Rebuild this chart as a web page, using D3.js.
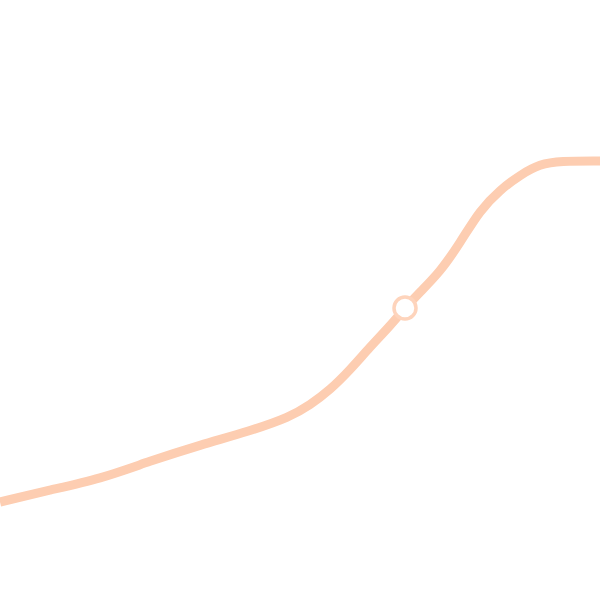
<!DOCTYPE html>
<html><head><meta charset="utf-8">
<script src="https://cdn.jsdelivr.net/npm/d3@7"></script>
<style>html,body{margin:0;padding:0;background:#fff;overflow:hidden}</style>
</head><body>
<svg id="chart" width="600" height="600"></svg>
<script>
const xValues = [0,10,20,30,40,50,58,62,66,70,74,78,81,84,88,92,96,100,104,108,112,120];
const yValues = [19.6,22,24.2,27.8,31,33.8,36.6,39,42,46,50.6,54.8,58.4,61.6,65.6,71.4,78,82,85,87.2,87.8,87.8];
const markerX = [81];
const markerY = [58.4];

const W = 600, H = 600;
const x = d3.scaleLinear().domain([0,120]).range([0,W]);
const y = d3.scaleLinear().domain([0,120]).range([H,0]);
const svg = d3.select("#chart");
const pts = xValues.map((v,i)=>[v, yValues[i]]);
const line = d3.line().x(d=>x(d[0])).y(d=>y(d[1])).curve(d3.curveBasis);
svg.append("path").attr("d", line(pts)).attr("fill","none")
  .attr("stroke","#fdcdb1").attr("stroke-width",9).attr("stroke-linecap","butt");
svg.selectAll("circle.m").data(markerX.map((v,i)=>[v,markerY[i]])).enter()
  .append("circle").attr("class","m")
  .attr("cx",d=>x(d[0])).attr("cy",d=>y(d[1])).attr("r",11)
  .attr("fill","#fff").attr("stroke","#fed4bc").attr("stroke-width",3.5);
</script>
</body></html>
